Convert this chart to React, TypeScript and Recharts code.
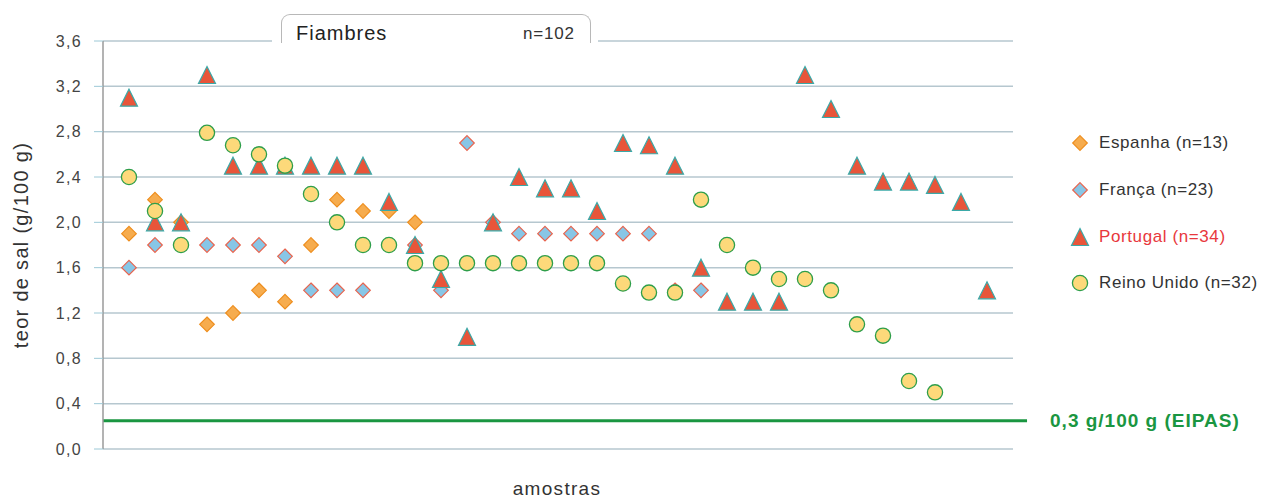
import React from 'react';
import { ScatterChart, Scatter, XAxis, YAxis, CartesianGrid, ReferenceLine, Legend } from 'recharts';

const FONT = "'Liberation Sans', Arial, sans-serif";

const yTicks = [0, 0.4, 0.8, 1.2, 1.6, 2.0, 2.4, 2.8, 3.2, 3.6];
const limitValue = 0.25;
const limitLabel = '0,3 g/100 g (EIPAS)';

const espanhaSamples = [1, 2, 3, 4, 5, 6, 7, 8, 9, 10, 11, 12];
const espanhaValues = [1.9, 2.2, 2.0, 1.1, 1.2, 1.4, 1.3, 1.8, 2.2, 2.1, 2.1, 2.0];

const francaSamples = [1, 2, 4, 5, 6, 7, 8, 9, 10, 12, 13, 14, 15, 16, 17, 18, 19, 20, 21, 22, 23];
const francaValues = [1.6, 1.8, 1.8, 1.8, 1.8, 1.7, 1.4, 1.4, 1.4, 1.8, 1.4, 2.7, 2.0, 1.9, 1.9, 1.9, 1.9, 1.9, 1.9, 1.4, 1.4];

const portugalValues = [3.1, 2.0, 2.0, 3.3, 2.5, 2.5, 2.5, 2.5, 2.5, 2.5, 2.18, 1.8, 1.5, 0.99, 2.0, 2.4, 2.3, 2.3, 2.1, 2.7, 2.68, 2.5, 1.6, 1.3, 1.3, 1.3, 3.3, 3.0, 2.5, 2.36, 2.36, 2.33, 2.18, 1.4];

const reinoUnidoValues = [2.4, 2.1, 1.8, 2.79, 2.68, 2.6, 2.5, 2.25, 2.0, 1.8, 1.8, 1.64, 1.64, 1.64, 1.64, 1.64, 1.64, 1.64, 1.64, 1.46, 1.38, 1.38, 2.2, 1.8, 1.6, 1.5, 1.5, 1.4, 1.1, 1.0, 0.6, 0.5];

const seriesNames = ['Espanha (n=13)', 'França (n=23)', 'Portugal (n=34)', 'Reino Unido (n=32)'];

const espanhaData = espanhaSamples.map((s, i) => ({ x: s, y: espanhaValues[i] }));
const francaData = francaSamples.map((s, i) => ({ x: s, y: francaValues[i] }));
const portugalData = portugalValues.map((v, i) => ({ x: i + 1, y: v }));
const reinoUnidoData = reinoUnidoValues.map((v, i) => ({ x: i + 1, y: v }));

const STYLES = [
  { fill: '#f6ac4e', stroke: '#ee8e1e', kind: 'diamond' },
  { fill: '#88c6e6', stroke: '#e8644e', kind: 'diamond' },
  { fill: '#e8553a', stroke: '#3aa9a8', kind: 'triangle' },
  { fill: '#fdd97a', stroke: '#2e9e4a', kind: 'circle' },
];

function Marker({ cx, cy, kind, fill, stroke }: any) {
  if (cx == null || cy == null) return null;
  if (kind === 'diamond') {
    const r = 7.3;
    return <polygon points={`${cx},${cy - r} ${cx + r},${cy} ${cx},${cy + r} ${cx - r},${cy}`} fill={fill} stroke={stroke} strokeWidth={1.2} />;
  }
  if (kind === 'triangle') {
    const w = 8.5, h = 8.5;
    return <polygon points={`${cx},${cy - h} ${cx + w},${cy + h} ${cx - w},${cy + h}`} fill={fill} stroke={stroke} strokeWidth={1.2} />;
  }
  return <circle cx={cx} cy={cy} r={7.6} fill={fill} stroke={stroke} strokeWidth={1.3} />;
}

const shapeFor = (idx: number) => (props: any) => <Marker cx={props.cx} cy={props.cy} {...STYLES[idx]} />;

function LegendContent() {
  return (
    <div style={{ fontFamily: FONT }}>
      {seriesNames.map((name, i) => (
        <div key={name} style={{ display: 'flex', alignItems: 'center', height: 46.7, whiteSpace: 'nowrap' }}>
          <svg width={20} height={20} style={{ marginRight: 9 }}>
            <Marker cx={10} cy={10} {...STYLES[i]} />
          </svg>
          <span style={{ fontSize: 17, letterSpacing: 0.6, color: i === 2 ? '#e8383d' : '#333' }}>{name}</span>
        </div>
      ))}
    </div>
  );
}

export default function App() {
  return (
    <div style={{ position: 'absolute', left: 0, top: 0, width: 1268, height: 497, background: '#fff', fontFamily: FONT }}>
      <ScatterChart width={1268} height={497} margin={{ top: 41, right: 255, bottom: 48, left: 0 }}>
        <CartesianGrid horizontal vertical={false} stroke="#b6c7cf" strokeWidth={1.5} />
        <XAxis type="number" dataKey="x" domain={[0, 35]} hide height={0} />
        <YAxis
          type="number"
          dataKey="y"
          domain={[0, 3.6]}
          ticks={yTicks}
          width={103}
          tickSize={9}
          tickMargin={12}
          axisLine={{ stroke: '#9a9a9a', strokeWidth: 1.5 }}
          tickLine={{ stroke: '#9cc8d6' }}
          tick={{ fill: '#444', fontSize: 16, fontFamily: FONT, letterSpacing: 1.3 }}
          tickFormatter={(v: number) => v.toFixed(1).replace('.', ',')}
          label={{ value: 'teor de sal (g/100 g)', angle: -90, position: 'insideLeft', offset: 21, style: { textAnchor: 'middle', fill: '#333', fontSize: 20, fontFamily: FONT, letterSpacing: 1.3 } }}
        />
        <ReferenceLine
          segment={[{ x: 0, y: limitValue }, { x: 35.54, y: limitValue }]}
          ifOverflow="visible"
          stroke="#1a9641"
          strokeWidth={3}
          label={{ value: limitLabel, position: 'right', offset: 23, fill: '#1a9641', fontSize: 19, fontWeight: 'bold', fontFamily: FONT, letterSpacing: 1 }}
        />
        <Scatter name={seriesNames[0]} data={espanhaData} shape={shapeFor(0)} isAnimationActive={false} />
        <Scatter name={seriesNames[1]} data={francaData} shape={shapeFor(1)} isAnimationActive={false} />
        <Scatter name={seriesNames[2]} data={portugalData} shape={shapeFor(2)} isAnimationActive={false} />
        <Scatter name={seriesNames[3]} data={reinoUnidoData} shape={shapeFor(3)} isAnimationActive={false} />
        <Legend layout="vertical" align="center" verticalAlign="middle" content={LegendContent} wrapperStyle={{ position: 'absolute', left: 1070, top: 120, width: 200 }} />
      </ScatterChart>
      <div style={{ position: 'absolute', left: 272, top: 38, width: 326, height: 6, background: '#fff' }} />
      <div style={{ position: 'absolute', left: 281, top: 14, width: 308, height: 28, border: '1px solid #b8b8b8', borderBottom: 'none', borderRadius: '9px 9px 0 0', background: '#fff' }} />
      <div style={{ position: 'absolute', left: 296, top: 22, fontSize: 20, letterSpacing: 1, color: '#222' }}>Fiambres</div>
      <div style={{ position: 'absolute', left: 523, top: 24, fontSize: 17, letterSpacing: 0.8, color: '#333' }}>n=102</div>
      <div style={{ position: 'absolute', left: 0, width: 1114, top: 478, textAlign: 'center', fontSize: 19, letterSpacing: 1.3, color: '#333' }}>amostras</div>
    </div>
  );
}
